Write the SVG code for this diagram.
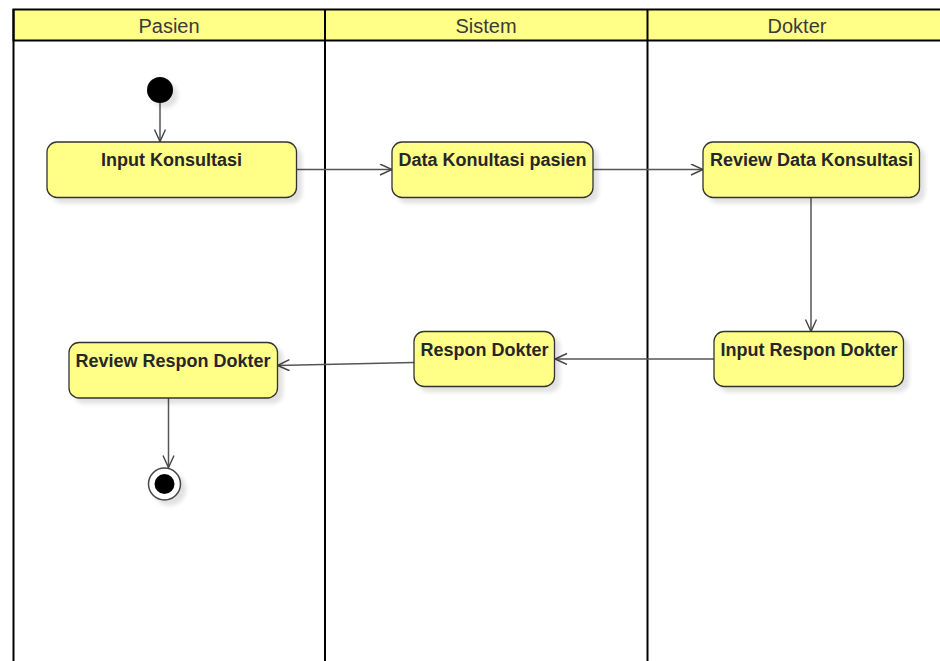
<svg xmlns="http://www.w3.org/2000/svg" width="940" height="661" viewBox="0 0 940 661">
<style>
.lane{fill:none;stroke:#000;stroke-width:2}
.hdr{fill:#ffff88;stroke:#000;stroke-width:2}
.htxt{font-family:"Liberation Sans",Arial,sans-serif;font-size:20px;fill:#3a3a3a;text-anchor:middle}
.act{fill:#ffff88;stroke:#333;stroke-width:1.3;filter:url(#sh)}
.atxt{font-family:"Liberation Sans",Arial,sans-serif;font-size:18px;font-weight:bold;fill:#262626;text-anchor:middle}
.edge{fill:none;stroke:#555;stroke-width:1.5;marker-end:url(#arr)}
</style>
<defs>
<filter id="sh" x="-20%" y="-20%" width="150%" height="160%">
<feGaussianBlur in="SourceAlpha" stdDeviation="2"/>
<feOffset dx="5" dy="5" result="o"/>
<feComponentTransfer><feFuncA type="linear" slope="0.12"/></feComponentTransfer>
<feMerge><feMergeNode/><feMergeNode in="SourceGraphic"/></feMerge>
</filter>
<marker id="arr" markerUnits="userSpaceOnUse" markerWidth="16" markerHeight="14" refX="13" refY="6" orient="auto" viewBox="0 0 16 14">
<path d="M1,0.5 L13,6 L1,11.5" fill="none" stroke="#444" stroke-width="1.4"/>
</marker>
</defs>
<rect width="940" height="661" fill="#fff"/>
<g id="lanes">
<rect class="hdr" x="13.5" y="9.5" width="960" height="31"/>
<line class="lane" x1="13.5" y1="9" x2="13.5" y2="670"/>
<line class="lane" x1="325" y1="9" x2="325" y2="670"/>
<line class="lane" x1="647.5" y1="9" x2="647.5" y2="670"/>
<text class="htxt" x="169" y="33">Pasien</text>
<text class="htxt" x="486" y="33">Sistem</text>
<text class="htxt" x="797" y="33">Dokter</text>
</g>
<g id="connectors">
<line class="edge" x1="160" y1="103" x2="160" y2="141.5"/>
<line class="edge" x1="296.7" y1="169.5" x2="392" y2="169.5"/>
<line class="edge" x1="593" y1="169.5" x2="703" y2="169.5"/>
<line class="edge" x1="811" y1="198" x2="811" y2="331.5"/>
<line class="edge" x1="714" y1="359" x2="555" y2="359"/>
<line class="edge" x1="414" y1="362.5" x2="277.5" y2="365.5"/>
<line class="edge" x1="168.5" y1="398" x2="168.5" y2="467.5"/>
</g>
<g id="start">
<circle cx="160" cy="90" r="13" fill="#000" filter="url(#sh)"/>
</g>
<g id="input-konsultasi">
<rect class="act" x="47" y="142" width="249.5" height="55.5" rx="10"/>
<text class="atxt" x="171.5" y="166">Input Konsultasi</text>
</g>
<g id="data-konultasi-pasien">
<rect class="act" x="392" y="142" width="201" height="55.5" rx="10"/>
<text class="atxt" x="492.5" y="166">Data Konultasi pasien</text>
</g>
<g id="review-data-konsultasi">
<rect class="act" x="703" y="142" width="216.5" height="55.5" rx="10"/>
<text class="atxt" x="811.5" y="166">Review Data Konsultasi</text>
</g>
<g id="input-respon-dokter">
<rect class="act" x="714" y="331.5" width="189.5" height="55" rx="10"/>
<text class="atxt" x="809" y="355.5">Input Respon Dokter</text>
</g>
<g id="respon-dokter">
<rect class="act" x="414" y="331.5" width="140.5" height="55" rx="10"/>
<text class="atxt" x="484.5" y="355.5">Respon Dokter</text>
</g>
<g id="review-respon-dokter">
<rect class="act" x="69" y="342.5" width="208.5" height="55.5" rx="10"/>
<text class="atxt" x="173" y="366.5">Review Respon Dokter</text>
</g>
<g id="end">
<circle cx="164.5" cy="484" r="16" fill="#fff" stroke="#444" stroke-width="1.5" filter="url(#sh)"/>
<circle cx="164.5" cy="484" r="10" fill="#000"/>
</g>
</svg>
